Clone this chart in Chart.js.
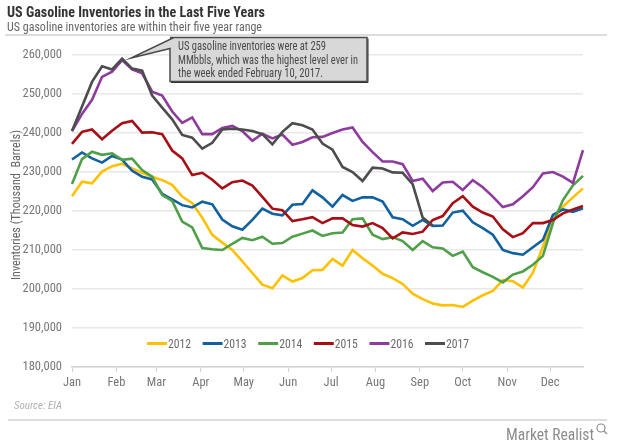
<!DOCTYPE html>
<html><head><meta charset="utf-8">
<script src="https://cdn.jsdelivr.net/npm/chart.js@4.4.1/dist/chart.umd.min.js"></script>
<style>html,body{margin:0;padding:0;background:#fff;}#wrap{width:620px;height:443px;}</style>
</head><body><div id="wrap"><canvas id="c" width="620" height="443"></canvas></div>
<script>
const monthLabels = ['Jan','Feb','Mar','Apr','May','Jun','Jul','Aug','Sep','Oct','Nov','Dec'];
const monthStartDays = [0,31,59,90,120,151,181,212,243,273,304,334];
const yTicks = [180000,190000,200000,210000,220000,230000,240000,250000,260000];
const seriesNames = ['2012','2013','2014','2015','2016','2017'];
const seriesColors = ['#FFC000','#11609F','#4E9F48','#A50F15','#8E3B9E','#4D4D4D'];

const v2012 = [223800,227500,227100,230100,231500,232100,230900,229800,228800,227900,226700,223700,222000,218300,213900,211900,210000,207100,204100,201100,200200,203500,201900,202800,204800,204900,207700,206000,210000,207900,206000,203900,202800,201300,198800,197400,196300,195800,195900,195400,197000,198400,199500,202300,202000,200400,204200,210900,217700,221100,223500,225800];
const v2013 = [233200,235000,233500,232400,234100,233200,230300,228800,228100,224400,223000,221500,220900,222400,221700,217800,216100,215200,217700,220600,219300,218900,221600,221800,225300,223500,221100,224100,222600,223500,223500,222400,218400,217900,216200,217700,216200,216300,219600,220100,217100,215600,213900,210000,209200,208800,210700,212600,219000,220400,219800,220700];
const v2014 = [226900,233300,235200,234400,234800,233100,233400,230500,228800,224100,222600,217300,215800,210500,210200,210000,211600,213100,212500,213400,211600,211800,213400,214200,215000,213600,214300,214500,217900,218100,213900,212800,213300,212300,210000,212300,210700,210400,208500,209600,205600,204300,203100,201700,203700,204500,206200,208500,216900,222800,226600,229000];
const v2015 = [237200,240300,240900,238400,240600,242500,243100,240100,240200,239700,235500,233500,229200,229800,228000,225800,227400,227800,226500,223600,220600,220200,217400,217900,218400,216900,218100,218100,216400,216000,216900,215600,213000,214500,214100,214700,217700,218700,222000,223800,221100,219600,218600,215300,213300,214300,216900,216900,217700,219400,220400,221300];
const v2016 = [240500,244900,248500,254400,255700,258700,256300,255300,250600,249600,245500,242600,244000,239700,239700,241300,241800,240500,238000,239800,238600,239600,237000,237700,238900,239000,240000,240900,241400,237700,235100,232700,232700,232000,227700,228300,225100,227300,227500,225400,227900,226100,223700,221000,221700,223800,226100,229600,230000,228800,227200,235600];
const v2017 = [240500,246800,253100,257100,256300,259100,256500,256000,249600,246500,243500,239500,238800,236000,237500,240900,241100,240900,240500,239700,237100,240300,242500,242000,240900,237300,235700,231300,230000,227700,231100,230900,229900,229800,226900,218300,216300];

const allSeries = [v2012,v2013,v2014,v2015,v2016,v2017];
const DAYS_PER_WEEK = 7;
const FONT = "'Liberation Sans Narrow','Roboto Condensed','DejaVu Sans Condensed','Open Sans',sans-serif";

function fitText(ctx, text, x, y, w) {
  const m = ctx.measureText(text).width;
  ctx.save();
  ctx.translate(x, y);
  ctx.scale(w / m, 1);
  ctx.fillText(text, 0, 0);
  ctx.restore();
}

const decor = {
  id: 'decor',
  afterDraw(chart) {
    const ctx = chart.ctx;
    const xs = chart.scales.x, ys = chart.scales.y;
    ctx.save();
    ctx.textBaseline = 'alphabetic';
    ctx.textAlign = 'left';
    // title
    ctx.fillStyle = '#333333';
    ctx.font = "bold 14px " + FONT;
    fitText(ctx, 'US Gasoline Inventories in the Last Five Years', 7, 17, 258);
    ctx.fillStyle = '#666666';
    ctx.font = "13px " + FONT;
    fitText(ctx, 'US gasoline inventories are within their five year range', 7, 31, 255);
    ctx.strokeStyle = '#d2d2d2'; ctx.lineWidth = 1.5;
    ctx.beginPath(); ctx.moveTo(5, 35); ctx.lineTo(607, 35); ctx.stroke();
    // y title
    ctx.save();
    ctx.translate(20, 205); ctx.rotate(-Math.PI/2);
    ctx.fillStyle = '#666666'; ctx.font = "12.5px " + FONT;
    const yt = 'Inventories (Thousand  Barrels)';
    const ytw = 150;
    fitText(ctx, yt, -ytw/2, 0, ytw);
    ctx.restore();
    // annotation callout
    const px = xs.getPixelForValue(5 * DAYS_PER_WEEK) + 9;
    const py = ys.getPixelForValue(v2017[5]) - 0.5;
    const bx = 170, by = 37.5, bw = 197, bh = 44;
    ctx.fillStyle = '#d8d8d8';
    ctx.strokeStyle = '#4a4a4a'; ctx.lineWidth = 1.5;
    ctx.beginPath();
    ctx.moveTo(bx, by); ctx.lineTo(bx + bw, by); ctx.lineTo(bx + bw, by + bh);
    ctx.lineTo(bx, by + bh); ctx.lineTo(bx, by + 11); ctx.lineTo(px, py); ctx.lineTo(bx + 4, by);
    ctx.closePath(); ctx.fill(); ctx.stroke();
    ctx.strokeStyle = '#333'; ctx.lineWidth = 1;
    ctx.beginPath(); ctx.moveTo(bx + bw + 1, by + 1); ctx.lineTo(bx + bw + 1, by + bh + 1); ctx.lineTo(bx + 1, by + bh + 1); ctx.stroke();
    ctx.fillStyle = '#4a4a4a'; ctx.font = "12px " + FONT;
    fitText(ctx, 'US gasoline inventories were at 259', 178, 50, 148);
    fitText(ctx, 'MMbbls, which was the highest level ever in', 178, 63.5, 180);
    fitText(ctx, 'the week ended February 10, 2017.', 178, 76.5, 145);
    // legend
    ctx.font = "12.5px " + FONT;
    let lx = 147; const ly = 343.5;
    chart.data.datasets.forEach((ds) => {
      ctx.strokeStyle = ds.borderColor; ctx.lineWidth = 3;
      ctx.beginPath(); ctx.moveTo(lx, ly); ctx.lineTo(lx + 20, ly); ctx.stroke();
      ctx.fillStyle = '#6a6a6a';
      fitText(ctx, ds.label, lx + 21, ly + 4.5, 23);
      lx += 55.6;
    });
    // source & footer
    ctx.fillStyle = '#b0b0b0'; ctx.font = "italic 11px " + FONT;
    fitText(ctx, 'Source: EIA', 14, 409, 48);
    ctx.strokeStyle = '#d2d2d2'; ctx.lineWidth = 1.5;
    ctx.beginPath(); ctx.moveTo(8, 420); ctx.lineTo(607, 420); ctx.stroke();
    ctx.fillStyle = '#8c8c8c'; ctx.font = "16px " + FONT;
    fitText(ctx, 'Market Realist', 506, 440, 88);
    ctx.strokeStyle = '#8c8c8c'; ctx.lineWidth = 1.2;
    ctx.beginPath(); ctx.arc(601, 428, 4, 0, Math.PI * 2); ctx.stroke();
    ctx.beginPath(); ctx.moveTo(604, 431); ctx.lineTo(607, 434); ctx.stroke();
    ctx.restore();
  }
};

const datasets = seriesNames.map((name, k) => ({
  label: name,
  data: allSeries[k].map((v, i) => ({ x: i * DAYS_PER_WEEK, y: v })),
  borderColor: seriesColors[k],
  backgroundColor: seriesColors[k],
  borderWidth: 2.6,
  pointRadius: 0,
  tension: 0,
  fill: false,
  order: seriesNames.length - k,
  clip: false
}));

new Chart(document.getElementById('c'), {
  type: 'line',
  data: { datasets },
  plugins: [decor],
  options: {
    responsive: false,
    animation: false,
    devicePixelRatio: 1,
    layout: { padding: { left: 0, right: 37, top: 55, bottom: 46 } },
    plugins: { legend: { display: false }, tooltip: { enabled: false }, title: { display: false } },
    scales: {
      x: {
        type: 'linear', min: 0, max: 51 * DAYS_PER_WEEK,
        afterBuildTicks: (s) => { s.ticks = monthStartDays.map(v => ({ value: v })); },
        afterFit: (s) => { s.height = 30; },
        ticks: {
          autoSkip: false, maxRotation: 0, padding: 3, color: '#777777',
          font: { family: FONT, size: 12.5 },
          callback: (v) => monthLabels[monthStartDays.indexOf(v)]
        },
        grid: { drawOnChartArea: false, drawTicks: true, tickLength: 5, color: '#d4d4d4', lineWidth: 1 },
        border: { display: true, color: '#d4d4d4', width: 1.5 }
      },
      y: {
        min: 180000, max: 260000,
        afterBuildTicks: (s) => { s.ticks = yTicks.map(v => ({ value: v })); },
        afterFit: (s) => { s.width = 72; },
        ticks: {
          padding: 10, color: '#777777',
          font: { family: FONT, size: 12.5 },
          callback: (v) => v.toLocaleString('en-US')
        },
        grid: { color: '#e8e8e8', lineWidth: 1.5, drawTicks: false },
        border: { display: false }
      }
    }
  }
});
</script></body></html>
